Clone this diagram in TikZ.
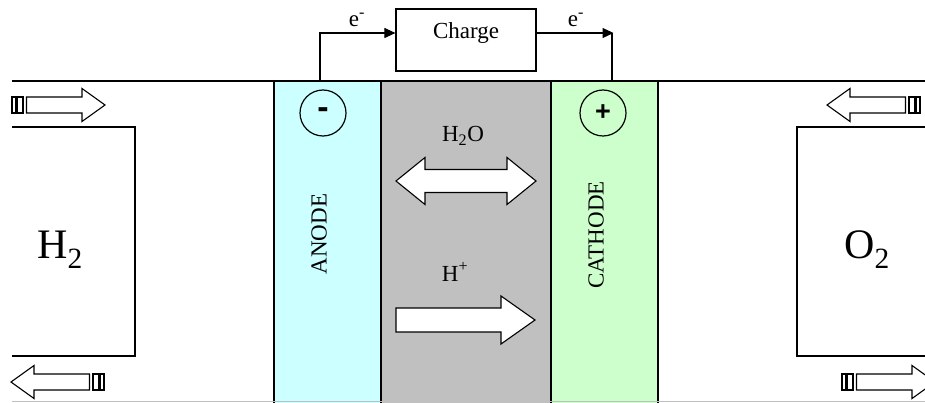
\documentclass[tikz,border=0pt]{standalone}
\usepackage{fontspec}
\setmainfont{Liberation Serif}
\newfontfamily\sansbold{Liberation Sans}
\usetikzlibrary{arrows.meta}
\definecolor{anodefill}{HTML}{CCFFFF}
\definecolor{electrofill}{HTML}{C0C0C0}
\definecolor{cathodefill}{HTML}{CCFFCC}
\tikzset{
  wall/.style={line width=1.3pt, draw=black},
  gasline/.style={line width=1.2pt, draw=black},
  blockarrow/.style={line width=1.1pt, draw=black, fill=white, line join=miter},
  txt/.style={font=\fontsize{23}{27}\selectfont, inner sep=0pt},
  bigtxt/.style={font=\fontsize{42}{48}\selectfont, inner sep=0pt},
  pole/.style={circle, draw=black, line width=1.2pt, minimum size=46pt, inner sep=0pt},
  wire/.style={line width=1.1pt, draw=black},
  wirehead/.style={-{Triangle[length=11pt,width=10pt]}},
  stripe arrow/.pic={
    \draw[blockarrow] (0,-8) rectangle (4,8);
    \draw[blockarrow] (5.5,-8) rectangle (11,8);
    \draw[blockarrow] (14.5,-8) -- (70,-8) -- (70,-16.5) -- (93,0) -- (70,16.5) -- (70,8) -- (14.5,8) -- cycle;
  }
}
\begin{document}
\begin{tikzpicture}[x=1pt,y=-1pt]
\useasboundingbox (0,0) rectangle (925,403);
\clip (0,0) rectangle (925,403);
% layer fills
\fill[anodefill] (274,81) rectangle (381,410);
\fill[electrofill] (381,81) rectangle (551,410);
\fill[cathodefill] (551,81) rectangle (658,410);
% walls
\draw[wall] (274,81) -- (274,410);
\draw[wall] (381,81) -- (381,410);
\draw[wall] (551,81) -- (551,410);
\draw[wall] (658,81) -- (658,410);
% top and bottom lines
\draw[line width=1.8pt] (12,81) -- (925,81);
\draw[line width=1pt, draw=black!25] (12,401.5) -- (925,401.5);
% gas chambers
\draw[gasline] (12,127) -- (135,127) -- (135,356) -- (12,356);
\draw[gasline] (925,127) -- (797,127) -- (797,356) -- (925,356);
% striped arrows
\pic at (12,105) {stripe arrow};
\pic[xscale=-1] at (104,382) {stripe arrow};
\pic[xscale=-1] at (920,105) {stripe arrow};
\pic at (842,382) {stripe arrow};
% gases
\node[bigtxt, anchor=base] (h2) at (60,258) {H\textsubscript{2}};
\node[bigtxt, anchor=base] (o2) at (867,258) {O\textsubscript{2}};
% electrodes
\node[txt, rotate=90] (anode) at (319,234) {ANODE};
\node[txt, rotate=90] (cathode) at (596,235) {CATHODE};
\node[pole, font=\sansbold\bfseries\fontsize{34}{36}\selectfont] (minus) at (323,113) {-};
\node[pole, font=\sansbold\bfseries\fontsize{27}{30}\selectfont] (plus) at (603,113) {+};
% electrolyte arrows
\draw[blockarrow] (396,181) -- (425,157.5) -- (425,169.5) -- (507,169.5) -- (507,157.5) -- (536,181)
  -- (507,204.5) -- (507,192.5) -- (425,192.5) -- (425,204.5) -- cycle;
\draw[blockarrow] (396,308) -- (501,308) -- (501,296) -- (535,320) -- (501,344) -- (501,332) -- (396,332) -- cycle;
\node[txt, anchor=base] (h2o) at (463,142) {H\textsubscript{2}O};
\node[txt, anchor=base] (hplus) at (455,281) {H\textsuperscript{+}};
% external circuit
\node[draw=black, line width=1.2pt, minimum width=140pt, minimum height=62pt, txt,
  text height=15pt, text depth=17pt] (charge) at (466,40) {Charge};
\coordinate (aw) at (320,81);
\coordinate (cw) at (612,81);
\coordinate (cwt) at (612,33);
\coordinate (cwtip) at (613.5,33);
\draw[wire, wirehead] (aw) |- ([yshift=7pt]charge.west);
\draw[wire, wirehead] ([yshift=7pt]charge.east) -- (cwtip);
\draw[wire] (cwt) -- (cw);
\node[txt, anchor=base] (e1) at (357,27) {e\textsuperscript{-}};
\node[txt, anchor=base] (e2) at (576,27) {e\textsuperscript{-}};
\end{tikzpicture}
\end{document}
